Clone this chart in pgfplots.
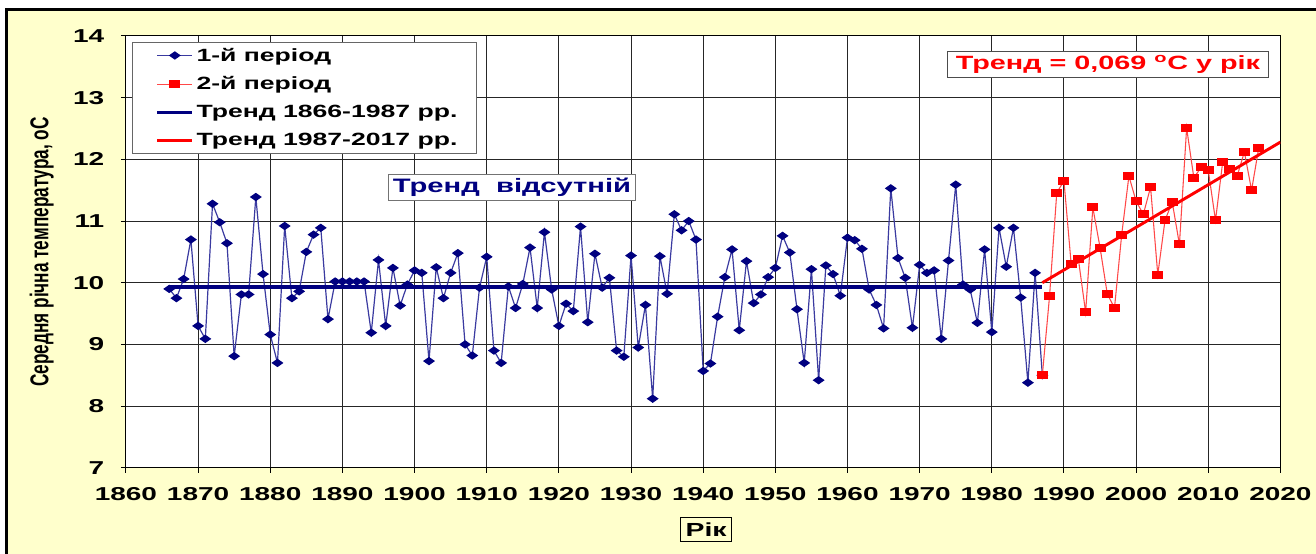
\documentclass[border=0pt]{standalone}
\usepackage{fontspec}
\setmainfont{Liberation Sans}[FakeStretch=1.5]
\newfontfamily\plainfont{Liberation Sans}
\usepackage{pgfplots}
\pgfplotsset{compat=1.18}
\definecolor{bgy}{HTML}{FFFFCC}
\definecolor{navyb}{HTML}{000080}
\definecolor{lineb}{HTML}{3A3AA0}
\definecolor{redl}{HTML}{FF4848}

\pgfplotstableread{
year t
1866 9.90
1867 9.75
1868 10.06
1869 10.70
1870 9.30
1871 9.09
1872 11.28
1873 10.98
1874 10.64
1875 8.81
1876 9.81
1877 9.81
1878 11.39
1879 10.14
1880 9.16
1881 8.70
1882 10.92
1883 9.75
1884 9.86
1885 10.50
1886 10.78
1887 10.89
1888 9.41
1889 10.02
1890 10.02
1891 10.02
1892 10.02
1893 10.02
1894 9.19
1895 10.37
1896 9.30
1897 10.24
1898 9.63
1899 9.97
1900 10.20
1901 10.16
1902 8.73
1903 10.25
1904 9.75
1905 10.16
1906 10.48
1907 9.00
1908 8.82
1909 9.92
1910 10.42
1911 8.90
1912 8.70
1913 9.94
1914 9.59
1915 9.98
1916 10.57
1917 9.59
1918 10.82
1919 9.89
1920 9.30
1921 9.66
1922 9.54
1923 10.91
1924 9.36
1925 10.47
1926 9.92
1927 10.08
1928 8.90
1929 8.80
1930 10.44
1931 8.95
1932 9.64
1933 8.12
1934 10.43
1935 9.82
1936 11.11
1937 10.85
1938 11.00
1939 10.70
1940 8.57
1941 8.69
1942 9.45
1943 10.09
1944 10.54
1945 9.23
1946 10.35
1947 9.67
1948 9.81
1949 10.09
1950 10.24
1951 10.76
1952 10.49
1953 9.57
1954 8.70
1955 10.22
1956 8.42
1957 10.28
1958 10.14
1959 9.79
1960 10.73
1961 10.69
1962 10.55
1963 9.89
1964 9.64
1965 9.26
1966 11.53
1967 10.40
1968 10.08
1969 9.27
1970 10.29
1971 10.16
1972 10.20
1973 9.09
1974 10.36
1975 11.59
1976 9.97
1977 9.89
1978 9.35
1979 10.54
1980 9.20
1981 10.89
1982 10.26
1983 10.89
1984 9.76
1985 8.38
1986 10.16
1987 8.50
}\first

\pgfplotstableread{
year t
1987 8.50
1988 9.78
1989 11.46
1990 11.65
1991 10.30
1992 10.38
1993 9.52
1994 11.22
1995 10.57
1996 9.82
1997 9.59
1998 10.78
1999 11.73
2000 11.32
2001 11.11
2002 11.55
2003 10.13
2004 11.01
2005 11.31
2006 10.62
2007 12.51
2008 11.70
2009 11.87
2010 11.82
2011 11.01
2012 11.96
2013 11.85
2014 11.73
2015 12.12
2016 11.50
2017 12.19
}\second

\begin{document}
\begin{tikzpicture}
\begin{scope}[x=0.75pt,y=0.75pt]
\useasboundingbox (0,0) rectangle (1316,554);
\fill[white] (0,0) rectangle (1316,554);
\fill[bgy] (7,-5) rectangle (1330,544);
\draw[line width=2.25pt] (7,-5) -- (7,544) -- (1330,544);
\end{scope}
\begin{axis}[
  at={(94.5pt,64.5pt)}, anchor=south west,
  scale only axis, width=866.25pt, height=324pt,
  xmin=1860, xmax=2020, ymin=7, ymax=14,
  xtick={1860,1870,...,2020}, ytick={7,8,...,14},
  grid=major,
  major grid style={black!85, line width=0.75pt},
  axis line style={black, line width=0.75pt},
  tick style={black, line width=0.75pt},
  tick align=outside, major tick length=3.75pt,
  xtick pos=bottom, ytick pos=left,
  axis background/.style={fill=white},
  /pgf/number format/assume math mode=true,
  ticklabel style={font=\fontsize{14}{16}\selectfont\bfseries},
  xticklabel style={/pgf/number format/1000 sep={}, yshift=-7.5pt},
  yticklabel style={xshift=-9pt},
  xlabel={Рік},
  xlabel style={at={(axis description cs:0.5025,-0.1435)}, anchor=center,
    draw=black, line width=0.75pt, inner xsep=3.5pt, inner ysep=4pt,
    font=\fontsize{14.2}{16}\selectfont\bfseries},
  ylabel={\scalebox{1}[1.5]{\plainfont\fontsize{12.9}{14}\selectfont\bfseries Середня річна температура, оС}},
  ylabel style={at={(axis description cs:-0.0730,0.5)}, anchor=center},
  legend style={at={(0.0052,0.986)}, anchor=north west,
    draw=black!60, line width=0.75pt, fill=white,
    font=\fontsize{13.3}{16}\selectfont\bfseries,
    inner xsep=12.6pt, inner ysep=2pt, row sep=6.2pt,
    cells={anchor=west}},
  legend image code/.code={\path (-4.9pt,0pt); \draw[mark repeat=2,mark phase=2] plot coordinates {(0cm,0cm) (0.46cm,0cm) (0.92cm,0cm)};},
]
\addplot[lineb, line width=0.9pt, mark=diamond*, mark size=2.6pt,
  mark options={navyb, solid, xscale=1.9}] table[x=year,y=t] {\first};
\addlegendentry{1-й період}
\addplot[redl, line width=0.8pt, mark=square*, mark size=2.6pt,
  mark options={red, solid, xscale=1.43}] table[x=year,y=t] {\second};
\addlegendentry{2-й період}
\addplot[navyb, line width=2.4pt] coordinates {(1866,9.93) (1987,9.93)};
\addlegendentry{Тренд 1866-1987 рр.}
\addplot[red, line width=2.2pt] coordinates {(1987,10.0) (2020,12.28)};
\addlegendentry{Тренд 1987-2017 рр.}

\node[draw=black!55, fill=white, line width=0.75pt, text=navyb,
  font=\fontsize{14.6}{16}\selectfont\bfseries,
  minimum width=186pt, minimum height=19.5pt, inner sep=2pt]
  at (axis cs:1913.5,11.54) {Тренд\ \ відсутній};
\node[draw=black!70, fill=white, line width=0.75pt, text=red,
  font=\fontsize{14.4}{16}\selectfont\bfseries,
  minimum width=241pt, minimum height=19pt, inner sep=2pt]
  at (axis cs:1996.1,13.54) {Тренд = 0,069 \textsuperscript{o}C у рік};
\end{axis}
\end{tikzpicture}
\end{document}
